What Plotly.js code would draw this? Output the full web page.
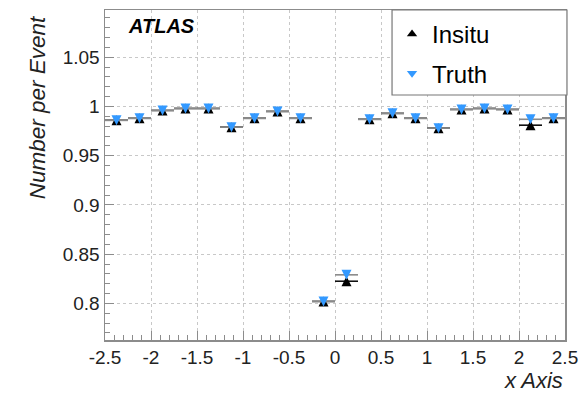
<!DOCTYPE html>
<html>
<head>
<meta charset="utf-8">
<script src="https://cdn.plot.ly/plotly-3.0.1.min.js"></script>
<style>
html,body{margin:0;padding:0;background:#fff;}
#chart{width:584px;height:395px;}
</style>
</head>
<body>
<div id="chart"></div>
<script>
// Bin centres (eta) and half bin width
const binCenters = [-2.375, -2.125, -1.875, -1.625, -1.375, -1.125, -0.875, -0.625, -0.375, -0.125,
                     0.125,  0.375,  0.625,  0.875,  1.125,  1.375,  1.625,  1.875,  2.125,  2.375];
const binHalfWidths = [0.125, 0.125, 0.125, 0.125, 0.125, 0.125, 0.125, 0.125, 0.125, 0.125,
                       0.125, 0.125, 0.125, 0.125, 0.125, 0.125, 0.125, 0.125, 0.125, 0.125];
// Number per event
const insituValues = [0.986, 0.988, 0.996, 0.998, 0.998, 0.979, 0.988, 0.995, 0.988, 0.802,
                      0.8225, 0.987, 0.993, 0.988, 0.978, 0.997, 0.998, 0.997, 0.981, 0.988];
const truthValues  = [0.986, 0.988, 0.996, 0.998, 0.998, 0.979, 0.988, 0.995, 0.988, 0.802,
                      0.829, 0.987, 0.993, 0.988, 0.978, 0.997, 0.998, 0.997, 0.987, 0.988];
const seriesNames = ['Insitu', 'Truth'];
const xTickVals = [-2.5, -2, -1.5, -1, -0.5, 0, 0.5, 1, 1.5, 2, 2.5];
const xTickText = ['-2.5', '-2', '-1.5', '-1', '-0.5', '0', '0.5', '1', '1.5', '2', '2.5'];
const yTickVals = [0.8, 0.85, 0.9, 0.95, 1, 1.05];
const yTickText = ['0.8', '0.85', '0.9', '0.95', '1', '1.05'];

const FONT = 'Liberation Sans, Arial, sans-serif';
const AXC = '#8c8c8c';
const MS = 10; // marker size (px)
const INSITU_COLOR = '#000';
const TRUTH_COLOR = '#3399ff';

const traces = [
  {
    type: 'scatter', mode: 'markers', name: seriesNames[0], showlegend: false,
    x: binCenters, y: insituValues,
    error_x: {type: 'data', array: binHalfWidths, visible: true, color: '#111', thickness: 1.6, width: 0},
    // centred up-pointing triangle (ROOT style)
    marker: {symbol: 'arrow-down', angle: 180, standoff: MS / 2, size: MS, color: INSITU_COLOR}
  },
  {
    type: 'scatter', mode: 'markers', name: seriesNames[1], showlegend: false,
    x: binCenters, y: truthValues,
    error_x: {type: 'data', array: binHalfWidths, visible: true, color: '#8a8a8a', thickness: 1.6, width: 0},
    // centred down-pointing triangle
    marker: {symbol: 'arrow-down', angle: 0, standoff: MS / 2, size: MS, color: TRUTH_COLOR}
  },
  // legend entries
  {type: 'scatter', mode: 'markers', name: seriesNames[0], legendgroup: 'a', x: [null], y: [null],
   marker: {symbol: 'triangle-up', size: 9, color: INSITU_COLOR}},
  {type: 'scatter', mode: 'markers', name: seriesNames[1], legendgroup: 'b', x: [null], y: [null],
   marker: {symbol: 'triangle-down', size: 9, color: TRUTH_COLOR}}
];

const layout = {
  width: 584, height: 395,
  margin: {l: 105, r: 19, t: 10, b: 55},
  paper_bgcolor: '#fff', plot_bgcolor: '#fff',
  font: {family: FONT, size: 19, color: '#000'},
  showlegend: true,
  legend: {
    x: 0.624, xanchor: 'left', y: 0.994, yanchor: 'top',
    bgcolor: 'rgba(0,0,0,0)', borderwidth: 0,
    font: {family: FONT, size: 24, color: '#000'},
    tracegroupgap: 5, traceorder: 'grouped', itemwidth: 30
  },
  xaxis: {
    range: [-2.5, 2.5], tickvals: xTickVals, ticktext: xTickText,
    ticks: 'inside', ticklen: 9, tickcolor: AXC, tickwidth: 1,
    minor: {dtick: 0.1, ticks: 'inside', ticklen: 5, tickcolor: AXC, showgrid: false},
    showline: true, linecolor: AXC, linewidth: 1.5, mirror: true,
    showgrid: true, gridcolor: '#c8c8c8', griddash: 'dot', gridwidth: 1,
    zeroline: false, tickfont: {family: FONT, size: 19, color: '#222'}
  },
  yaxis: {
    range: [0.7628, 1.098], tickvals: yTickVals, ticktext: yTickText,
    ticks: 'inside', ticklen: 9, tickcolor: AXC, tickwidth: 1,
    minor: {dtick: 0.01, ticks: 'inside', ticklen: 5, tickcolor: AXC, showgrid: false},
    showline: true, linecolor: AXC, linewidth: 1.5, mirror: true,
    showgrid: true, gridcolor: '#c8c8c8', griddash: 'dot', gridwidth: 1,
    zeroline: false, tickfont: {family: FONT, size: 19, color: '#222'}
  },
  shapes: [
    {type: 'rect', xref: 'paper', yref: 'paper', x0: 0.624, x1: 1.0043, y0: 0.7424, y1: 1.0,
     fillcolor: '#fff', line: {color: '#777', width: 1.2}, layer: 'above'}
  ],
  annotations: [
    {text: '<b><i>ATLAS</i></b>', xref: 'paper', yref: 'paper', x: 0.045, y: 0.952,
     xanchor: 'left', yanchor: 'middle', showarrow: false, font: {family: FONT, size: 20, color: '#000'}},
    {text: '<i>x Axis</i>', xref: 'paper', yref: 'paper', x: 1.0, y: -0.1667,
     xanchor: 'right', yanchor: 'bottom', showarrow: false, font: {family: FONT, size: 22, color: '#222'}},
    {text: '<i>Number per Event</i>', xref: 'paper', yref: 'paper', x: -0.148, y: 0.99,
     xanchor: 'center', yanchor: 'top', textangle: -90, showarrow: false, font: {family: FONT, size: 22.5, color: '#222'}}
  ]
};

Plotly.newPlot('chart', traces, layout, {displayModeBar: false, staticPlot: true});
</script>
</body>
</html>
